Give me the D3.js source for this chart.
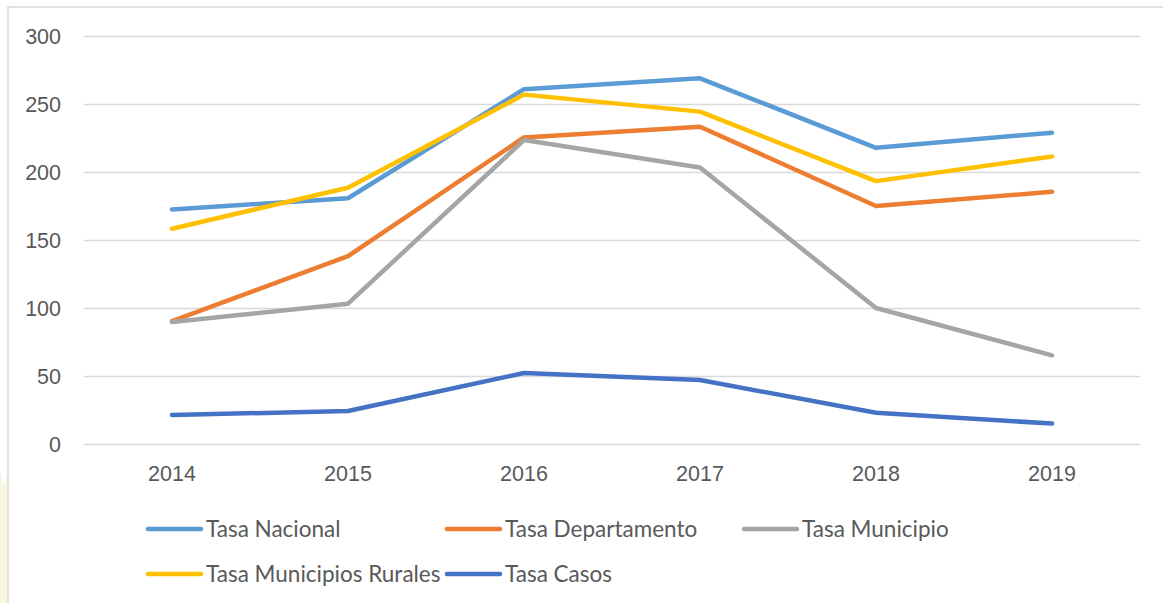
<!DOCTYPE html>
<html>
<head>
<meta charset="utf-8">
<script src="https://cdn.jsdelivr.net/npm/d3@7/dist/d3.min.js"></script>
<style>
  body { margin: 0; background: #fff; }
  svg { display: block; font-family: Lato, "Open Sans", sans-serif; }
  .axis text { fill: #595959; font-size: 21.5px; }
  .axis .domain { display: none; }
  .grid line { stroke: #D9D9D9; stroke-width: 1.3; }
  .legend text { fill: #595959; font-size: 22.5px; }
</style>
</head>
<body>
<svg id="chart" width="1163" height="603"></svg>
<script>
// data
var years = ["2014", "2015", "2016", "2017", "2018", "2019"];
var seriesNames = ["Tasa Nacional", "Tasa Departamento", "Tasa Municipio",
                   "Tasa Municipios Rurales", "Tasa Casos"];
var tasaNacional     = [172.5, 180.7, 260.9, 268.9, 217.8, 228.9];
var tasaDepartamento = [90.3, 138.1, 225.4, 233.3, 175.0, 185.4];
var tasaMunicipio    = [89.7, 103.2, 223.5, 203.3, 100.0, 65.2];
var tasaRurales      = [158.3, 188.4, 256.9, 244.4, 193.3, 211.4];
var tasaCasos        = [21.3, 24.3, 52.2, 47.0, 23.0, 15.0];
var yTicks = [0, 50, 100, 150, 200, 250, 300];

var colors = ["#5B9BD5", "#ED7D31", "#A5A5A5", "#FFC000", "#4472C4"];

var series = [tasaNacional, tasaDepartamento, tasaMunicipio, tasaRurales, tasaCasos]
  .map(function(vals, i) { return { name: seriesNames[i], color: colors[i], values: vals }; });

var plot = {left: 84, right: 1140, top: 36, bottom: 444};

var svg = d3.select("#chart");

svg.append("rect").attr("width", 1163).attr("height", 603).attr("fill", "#fff");

// faint watermark on the left edge
svg.append("path")
   .attr("d", "M0,603 L0,470 Q6,500 8,460 L8,603 Z")
   .attr("fill", "#F7F4DC")
   .attr("opacity", 0.8);

// chart frame
svg.append("rect")
   .attr("x", 8).attr("y", 7)
   .attr("width", 1170).attr("height", 620)
   .attr("fill", "none")
   .attr("stroke", "#D9D9D9")
   .attr("stroke-width", 1.5);

var x = d3.scaleBand().domain(years).range([plot.left, plot.right]).padding(0);
var xc = function(d) { return x(d) + x.bandwidth() / 2; };
var y = d3.scaleLinear().domain([0, 300]).range([plot.bottom, plot.top]);

// y axis with gridlines
var yAxis = svg.append("g")
   .attr("class", "axis grid")
   .attr("transform", "translate(" + plot.left + ",0)")
   .call(d3.axisLeft(y).tickValues(yTicks)
           .tickSize(-(plot.right - plot.left))
           .tickPadding(23));
yAxis.selectAll("text").attr("dy", "0.35em");

// x axis labels
var xAxis = svg.append("g")
   .attr("class", "axis")
   .attr("transform", "translate(0," + plot.bottom + ")")
   .call(d3.axisBottom(x).tickSize(0).tickPadding(22));
xAxis.selectAll("text").attr("dy", "0.71em");

// lines
var line = d3.line()
   .x(function(d, i) { return xc(years[i]); })
   .y(function(d) { return y(d); });

svg.append("g").selectAll("path")
   .data(series)
   .join("path")
   .attr("d", function(s) { return line(s.values); })
   .attr("fill", "none")
   .attr("stroke", function(s) { return s.color; })
   .attr("stroke-width", 4.5)
   .attr("stroke-linecap", "round")
   .attr("stroke-linejoin", "round");

// legend
var legendPos = [[147, 529], [446, 529], [743, 529], [147, 574], [446, 574]];
var legend = svg.append("g").attr("class", "legend")
   .selectAll("g")
   .data(series)
   .join("g")
   .attr("transform", function(d, i) { return "translate(" + legendPos[i][0] + "," + legendPos[i][1] + ")"; });

legend.append("line")
   .attr("x1", 1).attr("x2", 54)
   .attr("stroke", function(d) { return d.color; })
   .attr("stroke-width", 4.5)
   .attr("stroke-linecap", "round");

legend.append("text")
   .attr("x", 59)
   .attr("dy", "0.35em")
   .text(function(d) { return d.name; });
</script>
</body>
</html>
